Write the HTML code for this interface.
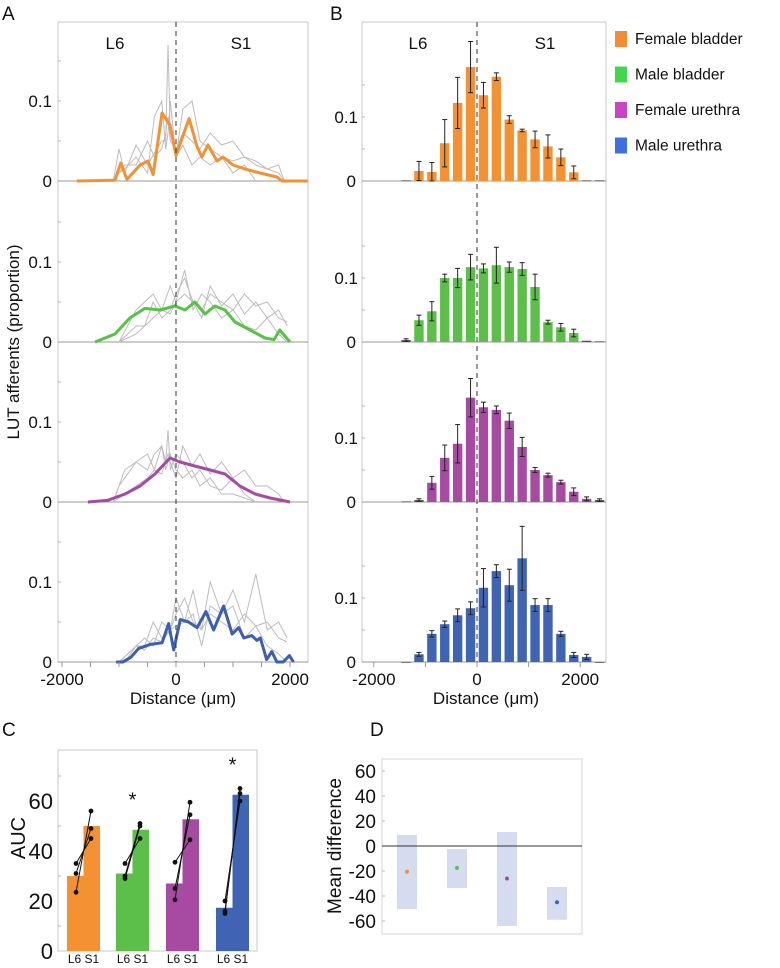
<!DOCTYPE html>
<html><head><meta charset="utf-8">
<style>
body{margin:0;background:#fff;width:780px;height:963px;overflow:hidden;font-family:"Liberation Sans","DejaVu Sans",sans-serif;}
svg text{font-family:"Liberation Sans","DejaVu Sans",sans-serif;fill:#111;}
</style></head>
<body>
<svg id="fig" width="780" height="963" xmlns="http://www.w3.org/2000/svg"></svg>
<script>
// ---------- DATA ----------
const groups = ["Female bladder","Male bladder","Female urethra","Male urethra"];
const lineColors = ["#f39133","#55c444","#a64aa2","#3b5fb2"];
const legendColors = ["#f58b32","#3fd84a","#c845c8","#3d6fe0"];
const barColors = ["#f39133","#5bbf4a","#a64aa2","#3f64b4"];
// Panel A mean curves (distance µm, proportion)
const meanX0 = [-1740,-1100,-1070,-970,-860,-630,-490,-400,-245,-105,0,230,370,455,560,720,825,1000,1210,1475,1770,1860,2310];
const meanY0 = [0,0.001,0.001,0.0225,0.002,0.02,0.025,0.008,0.085,0.07,0.032,0.078,0.043,0.03,0.045,0.025,0.03,0.02,0.015,0.01,0.005,0,0];
const meanX1 = [-1420,-1070,-810,-545,-280,-20,160,330,510,680,860,1035,1300,1560,1720,1820,2000];
const meanY1 = [0,0.01,0.03,0.042,0.04,0.045,0.04,0.05,0.035,0.045,0.04,0.025,0.015,0.005,0.003,0.015,0];
const meanX2 = [-1545,-1200,-895,-630,-370,-105,70,330,600,860,1120,1390,1650,2000];
const meanY2 = [0,0.002,0.01,0.02,0.035,0.055,0.05,0.045,0.04,0.035,0.02,0.01,0.005,0];
const meanX3 = [-1050,-930,-790,-655,-450,-245,-130,-40,75,220,370,525,660,835,985,1100,1190,1330,1420,1480,1590,1680,1770,1880,1990,2060];
const meanY3 = [0,0,0.006,0.017,0.022,0.024,0.048,0.015,0.053,0.05,0.043,0.063,0.04,0.07,0.035,0.043,0.03,0.033,0.027,0.03,0.003,0.013,0,0,0.008,0];
// Panel A individual animals (gray)
const grayXa = [-1100,-1000,-900,-700,-500,-380,-250,-180,-140,-100,0,120,280,420,600,800,1000,1200,1400,1600,1800,1900];
const grayYa0 = [0,0.04,0.01,0.045,0.02,0.035,0.05,0.05,0.17,0.06,0.03,0.09,0.1,0.05,0.04,0.03,0.025,0.03,0.02,0.015,0.01,0];
const grayYa1 = [0,0.01,0.02,0.02,0.05,0.03,0.04,0.06,0.08,0.05,0.04,0.06,0.05,0.04,0.06,0.045,0.05,0.03,0.025,0.015,0.02,0];
const grayYa2 = [0,0.005,0.01,0.02,0.03,0.04,0.035,0.05,0.06,0.05,0.03,0.07,0.045,0.06,0.035,0.05,0.03,0.04,0.02,0.02,0.01,0];
const grayYa3 = [0,0.01,0.02,0.015,0.03,0.025,0.04,0.045,0.05,0.06,0.02,0.07,0.06,0.09,0.05,0.11,0.04,0.05,0.03,0.05,0.01,0.015];
const grayXb = [-1000,-850,-700,-550,-400,-250,-100,0,150,300,450,600,800,1000,1200,1400,1600,1800,1950];
const grayYb0 = [0,0.01,0.015,0.03,0.01,0.08,0.1,0.04,0.06,0.1,0.03,0.045,0.02,0.03,0.02,0.03,0.01,0.02,0];
const grayYb1 = [0,0.02,0.04,0.05,0.06,0.04,0.07,0.05,0.09,0.04,0.06,0.05,0.03,0.04,0.02,0.015,0.03,0.01,0];
const grayYb2 = [0,0.02,0.03,0.05,0.04,0.06,0.07,0.04,0.05,0.06,0.04,0.03,0.04,0.02,0.03,0.01,0.01,0.005,0];
const grayYb3 = [0,0.005,0.02,0.03,0.02,0.05,0.04,0.08,0.05,0.09,0.04,0.1,0.06,0.07,0.03,0.045,0.02,0.01,0];
// Panel B histogram
const binCenters = [-1375,-1125,-875,-625,-375,-125,125,375,625,875,1125,1375,1625,1875,2125,2375];
const barVals0 = [0.001,0.0156,0.014,0.059,0.122,0.178,0.134,0.163,0.096,0.079,0.065,0.054,0.037,0.0135,0.001,0.001];
const barErr0  = [0,0.015,0.015,0.037,0.04,0.04,0.02,0.006,0.006,0.002,0.013,0.018,0.013,0.01,0,0];
const barVals1 = [0.003,0.034,0.048,0.10,0.10,0.117,0.115,0.12,0.117,0.114,0.086,0.031,0.023,0.014,0.002,0.001];
const barErr1  = [0.002,0.008,0.015,0.006,0.015,0.02,0.007,0.028,0.008,0.01,0.02,0.003,0.006,0.006,0,0];
const barVals2 = [0.001,0.003,0.03,0.069,0.091,0.163,0.148,0.144,0.127,0.086,0.05,0.042,0.031,0.016,0.005,0.003];
const barErr2  = [0,0.002,0.01,0.02,0.03,0.03,0.008,0.006,0.012,0.015,0.004,0.003,0.003,0.006,0.003,0.002];
const barVals3 = [0,0.012,0.044,0.059,0.073,0.084,0.116,0.142,0.12,0.162,0.089,0.089,0.044,0.011,0.008,0];
const barErr3  = [0,0.003,0.005,0.005,0.01,0.01,0.03,0.01,0.025,0.05,0.01,0.01,0.004,0.004,0.004,0];
// Panel C AUC
const aucL6 = [30,31,27,17.3];
const aucS1 = [50,48.5,52.7,62.5];
const ptsL6 = [[35,31,23.5],[35,30,29],[35.5,25,20.5],[20,16,15]];
const ptsS1 = [[45,49,56],[45,51,50],[44.5,54.5,59.5],[60,63,65]];
const aucTicks = [0,20,40,60];
const sigStar = [false,true,false,true];
// Panel D mean difference
const mdMean = [-20.5,-17.5,-26,-45];
const mdHi = [8.8,-2.4,11.2,-32.8];
const mdLo = [-50.4,-33.6,-64,-59];
const mdTicks = [60,40,20,0,-20,-40,-60];

// ---------- HELPERS ----------
const svg = document.getElementById('fig');
const NS = "http://www.w3.org/2000/svg";
function el(tag, attrs, parent){
  const e = document.createElementNS(NS, tag);
  for (const k in attrs) e.setAttribute(k, attrs[k]);
  (parent||svg).appendChild(e);
  return e;
}
function txt(s, x, y, size, anchor, parent){
  const t = el('text', {x:x, y:y, 'font-size':size, 'text-anchor':anchor||'start'}, parent);
  t.textContent = s;
  return t;
}

// Panel letters
[["A",2,20],["B",330,20],["C",2,736],["D",370,736]].forEach(p=>{
  const t = txt(p[0],p[1],p[2],19);
  
  
});

// ---------- PANEL A ----------
const A = {l:58, r:308, top:22, zeros:[181,342,502,662]};
const axA = d => 176 + d*0.057;
const ayA = (i,v) => A.zeros[i] - v*800;
const gA = el('g',{});


el('rect',{x:A.l,y:A.top,width:A.r-A.l,height:662-A.top,fill:'none',stroke:'#c8c8c8','stroke-width':1},gA);
const meanXs=[meanX0,meanX1,meanX2,meanX3], meanYs=[meanY0,meanY1,meanY2,meanY3];
const grayXs=[grayXa,grayXb,grayXa,grayXb];
const grayYs=[[grayYa0,grayYa1,grayYb0],[grayYa1,grayYb1,grayYa2],[grayYa2,grayYb2,grayYb1],[grayYa3,grayYb3,grayYa1]];
for(let i=0;i<4;i++){
  const z=A.zeros[i];
  if(i<3){ const sep=el('line',{x1:A.l,x2:A.r,y1:z,y2:z,stroke:'#999','stroke-width':1},gA); }
  else el('line',{x1:A.l,x2:A.r,y1:z,y2:z,stroke:'#999','stroke-width':1},gA);
  // y ticks
  [0.05,0.1,0.15].forEach(v=>el('line',{x1:A.l,x2:A.l+3,y1:ayA(i,v),y2:ayA(i,v),stroke:'#bbb'},gA));
  const t1=txt('0.1',A.l-6,ayA(i,0.1)+6,17,'end',gA);
  const t0=txt('0',A.l-6,z+6,17,'end',gA);
  grayYs[i].forEach((ys,k)=>{
    const p=el('polyline',{points:grayXs[i].map((x,j)=>axA(x)+','+ayA(i,ys[j])).join(' '),fill:'none',stroke:'#bdbdbd','stroke-width':1},gA);
    
    
  });
  const m=el('polyline',{points:meanXs[i].map((x,j)=>axA(x)+','+ayA(i,meanYs[i][j])).join(' '),fill:'none',stroke:lineColors[i],'stroke-width':3,'stroke-linejoin':'round'},gA);
  
  
}
el('line',{x1:axA(0),x2:axA(0),y1:A.top,y2:670,stroke:'#333','stroke-dasharray':'5,4','stroke-width':1},gA);
txt('L6',115,49,17,'middle',gA); txt('S1',241,49,17,'middle',gA);
[-2000,-1500,-1000,-500,0,500,1000,1500,2000].forEach(v=>el('line',{x1:axA(v),x2:axA(v),y1:662,y2:667,stroke:'#999'},gA));
[-2000,0,2000].forEach(v=>txt(String(v),axA(v),685,17,'middle',gA));
const xA=txt('Distance (μm)',183,704,17,'middle',gA);
 
const yA=txt('LUT afferents (proportion)',0,0,17,'middle',gA);
yA.setAttribute('transform','translate(19,342) rotate(-90)');
 

// ---------- PANEL B ----------
const B = {l:362, r:606, top:22, zeros:[181,342,502,662]};
const axB = d => 477 + d*0.0516;
const ayB = (i,v) => B.zeros[i] - v*640;
const gB = el('g',{});


el('rect',{x:B.l,y:B.top,width:B.r-B.l,height:662-B.top,fill:'none',stroke:'#c8c8c8'},gB);
const bv=[barVals0,barVals1,barVals2,barVals3], be=[barErr0,barErr1,barErr2,barErr3];
for(let i=0;i<4;i++){
  const z=B.zeros[i];
  el('line',{x1:B.l,x2:B.r,y1:z,y2:z,stroke:'#999'},gB);
  [0.05,0.1,0.15].forEach(v=>el('line',{x1:B.l,x2:B.l+3,y1:ayB(i,v),y2:ayB(i,v),stroke:'#bbb'},gB));
  txt('0.1',B.l-4,ayB(i,0.1)+6,17,'end',gB);
  txt('0',B.l-6,z+6,17,'end',gB);
  binCenters.forEach((c,j)=>{
    const v=bv[i][j], e=be[i][j], x=axB(c);
    const r=el('rect',{x:x-4.7,y:ayB(i,v),width:9.4,height:Math.max(0.8,v*640),fill:v<0.005?'#555':barColors[i]},gB);
    
    
    if(e>0){
      const y1=ayB(i,v+e), y2=ayB(i,Math.max(0,v-e));
      el('line',{x1:x,x2:x,y1:y1,y2:y2,stroke:'#222','stroke-width':1},gB);
      el('line',{x1:x-2.5,x2:x+2.5,y1:y1,y2:y1,stroke:'#222'},gB);
      el('line',{x1:x-2.5,x2:x+2.5,y1:y2,y2:y2,stroke:'#222'},gB);
    }
  });
}
el('line',{x1:axB(0),x2:axB(0),y1:B.top,y2:670,stroke:'#333','stroke-dasharray':'5,4'},gB);
txt('L6',418,49,17,'middle',gB); txt('S1',545,49,17,'middle',gB);
[-2000,-1000,0,1000,2000].forEach(v=>el('line',{x1:axB(v),x2:axB(v),y1:662,y2:667,stroke:'#999'},gB));
[-2000,0,2000].forEach(v=>txt(String(v),axB(v),685,17,'middle',gB));
const xB=txt('Distance (μm)',486,704,17,'middle',gB);
 

// Legend
const gL=el('g',{});


groups.forEach((g,i)=>{
  const y=31+i*35.5;
  const s=el('rect',{x:615,y:y,width:12,height:16,fill:legendColors[i]},gL);
  
  
  const t=txt(g,635,y+13,15.5,'start',gL);
  
  
});

// ---------- PANEL C ----------
const C={l:58,r:257,top:750,bot:951};
const ayC=v=>C.bot - v*2.5;
const gC=el('g',{});


el('rect',{x:C.l,y:C.top,width:C.r-C.l,height:C.bot-C.top,fill:'none',stroke:'#c8c8c8'},gC);
[10,30,50,70].forEach(v=>el('line',{x1:C.l,x2:C.l+3,y1:ayC(v),y2:ayC(v),stroke:'#bbb'},gC));
aucTicks.forEach(v=>txt(String(v),C.l-5,ayC(v)+8,22,'end',gC));
const yC=txt('AUC',0,0,20,'middle',gC);
yC.setAttribute('transform','translate(25,838) rotate(-90)');
 
const groupX=[67,116,166,216];
groups.forEach((g,i)=>{
  const x0=groupX[i], w=16.5;
  const b1=el('rect',{x:x0,y:ayC(aucL6[i]),width:w,height:aucL6[i]*2.5,fill:barColors[i]},gC);
  
  
  const b2=el('rect',{x:x0+w,y:ayC(aucS1[i]),width:w,height:aucS1[i]*2.5,fill:barColors[i]},gC);
  
  
  const xl=x0+9, xr=x0+w+7.5;
  ptsL6[i].forEach((v,k)=>{
    el('line',{x1:xl,y1:ayC(v),x2:xr,y2:ayC(ptsS1[i][k]),stroke:'#111','stroke-width':1},gC);
    el('circle',{cx:xl,cy:ayC(v),r:2.4,fill:'#111'},gC);
    el('circle',{cx:xr,cy:ayC(ptsS1[i][k]),r:2.4,fill:'#111'},gC);
  });
  if(sigStar[i]){ txt('*',x0+w,ayC(Math.max(...ptsS1[i]))-17,20,'middle',gC); }
  txt('L6 S1',x0+w,963,12,'middle',gC);
});

// ---------- PANEL D ----------
const D={l:382,r:582,top:759,bot:934};
const ayD=v=>846 - v*1.25;
const gD=el('g',{});


el('rect',{x:D.l,y:D.top,width:D.r-D.l,height:D.bot-D.top,fill:'none',stroke:'#d6d6d6'},gD);
mdTicks.forEach(v=>{
  el('line',{x1:D.l,x2:D.l+3,y1:ayD(v),y2:ayD(v),stroke:'#bbb'},gD);
  txt(String(v),D.l-6,ayD(v)+7,19,'end',gD);
});
const yD=txt('Mean difference',0,0,19,'middle',gD);
yD.setAttribute('transform','translate(341,846) rotate(-90)');
 
const dX=[407,457,507,557];
mdMean.forEach((m,i)=>{
  const r=el('rect',{x:dX[i]-10,y:ayD(mdHi[i]),width:20,height:(mdHi[i]-mdLo[i])*1.25,fill:'#d5dcf0'},gD);
  
  
  const c=el('circle',{cx:dX[i],cy:ayD(m),r:2,fill:barColors[i]},gD);
  
  
});
el('line',{x1:D.l,x2:D.r,y1:ayD(0),y2:ayD(0),stroke:'#333','stroke-width':1},gD);
</script>
</body></html>
